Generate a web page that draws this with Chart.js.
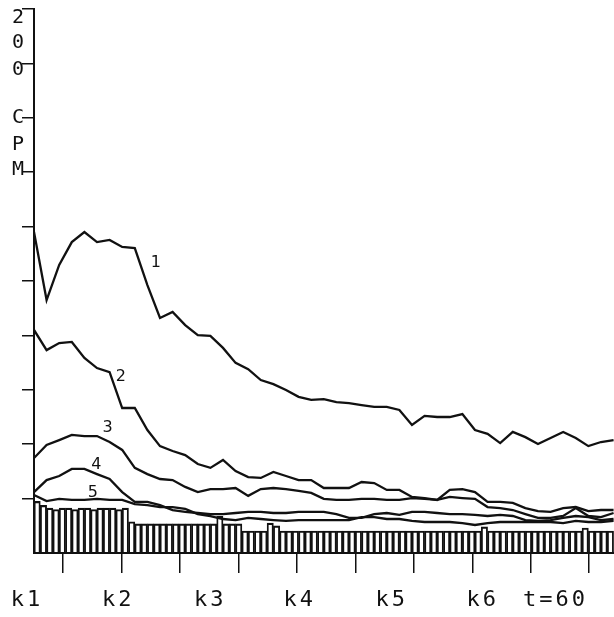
<!DOCTYPE html>
<html>
<head>
<meta charset="utf-8">
<script src="https://cdn.jsdelivr.net/npm/chart.js@4.4.0/dist/chart.umd.min.js"></script>
<style>
  html, body { margin: 0; padding: 0; background: #fff; }
</style>
</head>
<body>
<canvas id="cpmChart" width="614" height="617"></canvas>
<script>
// sampling: one bar per interval, curves read every second interval (minutes)
var barStep = 0.7186
var curveStep = 2 * barStep
var xMax = 66.16

// count rates (cpm) for the five curves
var curve1 = [118.0, 93.0, 105.9, 114.3, 118.0, 114.3, 115.1, 112.5, 112.1, 98.5, 86.4, 88.6, 83.8, 80.1, 79.8, 75.4,
  69.9, 67.6, 63.6, 62.1, 59.9, 57.4, 56.3, 56.6, 55.5, 55.1, 54.4, 53.7, 53.7, 52.6, 47.1, 50.4, 50.0, 50.0, 51.1,
  45.2, 43.8, 40.4, 44.5, 42.6, 40.1, 42.3, 44.5, 42.3, 39.3, 40.8, 41.5]
var curve2 = [82.0, 74.6, 77.2, 77.6, 71.7, 68.0, 66.5, 53.3, 53.3, 45.2, 39.3, 37.5, 36.0, 32.7, 31.3, 34.2,
  30.1, 27.9, 27.6, 29.8, 28.3, 26.8, 26.8, 23.9, 23.9, 23.9, 26.1, 25.7, 23.2, 23.2, 20.6, 20.2, 19.5, 23.2, 23.5,
  22.4, 18.8, 18.8, 18.4, 16.5, 15.4, 15.1, 16.5, 16.9, 15.4, 15.8, 15.8]
var curve3 = [34.9, 39.7, 41.5, 43.4, 43.0, 43.0, 40.8, 37.9, 31.3, 29.0, 27.2, 26.8, 24.3, 22.4, 23.5, 23.5,
  23.9, 21.0, 23.5, 23.9, 23.5, 22.8, 22.1, 19.9, 19.5, 19.5, 19.9, 19.9, 19.5, 19.5, 20.2, 19.9, 19.5, 20.6, 20.2,
  19.9, 16.9, 16.5, 15.8, 14.3, 12.9, 12.9, 13.6, 16.5, 13.6, 13.2, 14.7]
var curve4 = [22.4, 26.8, 28.3, 30.9, 30.9, 29.0, 27.2, 22.4, 18.8, 18.8, 17.6, 15.8, 15.1, 14.7, 14.3, 14.3,
  14.7, 15.1, 15.1, 14.7, 14.7, 15.1, 15.1, 15.1, 14.3, 12.9, 12.9, 14.3, 14.7, 14.0, 15.1, 15.1, 14.7, 14.3, 14.3,
  14.0, 13.6, 14.0, 13.6, 12.1, 11.8, 12.1, 12.9, 13.6, 13.2, 12.1, 12.5]
var curve5 = [21.3, 19.1, 19.9, 19.5, 19.5, 19.9, 19.5, 19.5, 18.0, 17.6, 16.9, 16.9, 16.2, 14.3, 13.6, 12.5,
  12.1, 12.9, 12.5, 12.1, 11.8, 12.1, 12.1, 12.1, 12.1, 12.1, 13.2, 13.2, 12.5, 12.5, 11.8, 11.4, 11.4, 11.4, 11.0,
  10.3, 11.0, 11.4, 11.4, 11.4, 11.4, 11.4, 11.0, 11.8, 11.4, 11.4, 11.8]

// background histogram (cpm per interval)
var background = [19.0, 17.5,
  16.5, 16.0, 16.5, 16.5, 16.0, 16.5, 16.5, 16.0, 16.5, 16.5, 16.5, 16.0, 16.5,
  11.5,
  10.7, 10.7, 10.7, 10.7, 10.7, 10.7, 10.7, 10.7, 10.7, 10.7, 10.7, 10.7, 10.7, 13.5, 10.7, 10.7, 10.7,
  8.1, 8.1, 8.1, 8.1, 11.0, 10.0, 8.1, 8.1, 8.1, 8.1, 8.1, 8.1, 8.1, 8.1, 8.1, 8.1, 8.1, 8.1, 8.1, 8.1, 8.1, 8.1,
  8.1, 8.1, 8.1, 8.1, 8.1, 8.1, 8.1, 8.1, 8.1, 8.1, 8.1, 8.1, 8.1, 8.1, 8.1, 8.1, 9.6, 8.1, 8.1, 8.1, 8.1, 8.1,
  8.1, 8.1, 8.1, 8.1, 8.1, 8.1, 8.1, 8.1, 8.1, 8.1, 9.2, 8.1, 8.1, 8.1, 8.1]

// axis ticks
var xTickVals = [20/3, 40/3, 20, 80/3, 100/3, 40, 140/3, 160/3, 60]
var yTickVals = [20, 40, 60, 80, 100, 120, 140, 160, 180, 200]

// text under the axis and along it
var kLabels = ['k1', 'k2', 'k3', 'k4', 'k5', 'k6', 't=60']
var kLabelT = [-0.8, 9.6, 20.1, 30.3, 40.8, 51.2, 59.5]
var unitChars = ['2', '0', '0', 'C', 'P', 'M']
var unitCharV = [196.7, 187.5, 177.6, 160.0, 150.0, 140.8]
var curveNames = ['1', '2', '3', '4', '5']
var curveNameT = [13.9, 9.9, 8.4, 7.1, 6.7]
var curveNameV = [106.6, 64.7, 46.0, 32.4, 22.1]

var ink = '#111'

function toPoints(arr, step, shift) {
  return arr.map(function(v, i) { return {x: (i + shift) * step, y: v} })
}

function lineSet(arr) {
  return {
    type: 'line',
    data: toPoints(arr, curveStep, 0),
    borderColor: ink,
    borderWidth: 2.3,
    pointRadius: 0,
    tension: 0,
    fill: false,
    order: 0
  }
}

// draws the axis words, compartment labels and curve numbers
const PlotText = {
  id: 'PlotText',
  afterDraw(chart) {
    const {ctx, chartArea, scales: {x, y}} = chart
    ctx.save()
    ctx.fillStyle = ink
    ctx.textAlign = 'center'
    ctx.textBaseline = 'middle'

    ctx.font = '22px "DejaVu Sans Mono"'
    ctx.letterSpacing = '3px'
    kLabels.forEach(function(s, i) {
      ctx.fillText(s, x.getPixelForValue(kLabelT[i]), chartArea.bottom + 47)
    })

    ctx.letterSpacing = '0px'
    ctx.font = '20px "DejaVu Sans Mono"'
    unitChars.forEach(function(s, i) {
      ctx.fillText(s, chartArea.left - 16, y.getPixelForValue(unitCharV[i]))
    })

    ctx.font = '16px "DejaVu Sans"'
    curveNames.forEach(function(s, i) {
      ctx.fillText(s, x.getPixelForValue(curveNameT[i]), y.getPixelForValue(curveNameV[i]))
    })
    ctx.restore()
  }
}

const _config = {
  type: 'line',
  data: {
    datasets: [
      lineSet(curve1),
      lineSet(curve2),
      lineSet(curve3),
      lineSet(curve4),
      lineSet(curve5),
      {
        type: 'bar',
        data: toPoints(background, barStep, 0.5),
        backgroundColor: 'rgba(255,255,255,0)',
        borderColor: ink,
        borderWidth: {top: 1.5, left: 1.2, right: 1.2, bottom: 0},
        barPercentage: 1,
        categoryPercentage: 1,
        order: 10
      }
    ]
  },
  plugins: [PlotText],
  options: {
    responsive: false,
    animation: false,
    devicePixelRatio: 1,
    layout: {padding: {top: 9, right: 0, bottom: 0, left: 0}},
    plugins: {
      legend: {display: false},
      tooltip: {enabled: false}
    },
    scales: {
      x: {
        type: 'linear',
        min: 0,
        max: xMax,
        offset: false,
        afterBuildTicks: function(scale) {
          scale.ticks = xTickVals.map(function(v) { return {value: v} })
        },
        afterFit: function(scale) { scale.height = 64 },
        ticks: {display: false},
        grid: {drawOnChartArea: false, drawTicks: true, tickLength: 20, color: ink, lineWidth: 1.5},
        border: {display: true, color: ink, width: 2}
      },
      y: {
        type: 'linear',
        min: 0,
        max: 200,
        afterBuildTicks: function(scale) {
          scale.ticks = yTickVals.map(function(v) { return {value: v} })
        },
        afterFit: function(scale) { scale.width = 34 },
        ticks: {display: false},
        grid: {drawOnChartArea: false, drawTicks: true, tickLength: 12, color: ink, lineWidth: 1.5},
        border: {display: true, color: ink, width: 2}
      }
    }
  }
}

const myChart = new Chart(document.getElementById('cpmChart'), _config)
</script>
</body>
</html>
